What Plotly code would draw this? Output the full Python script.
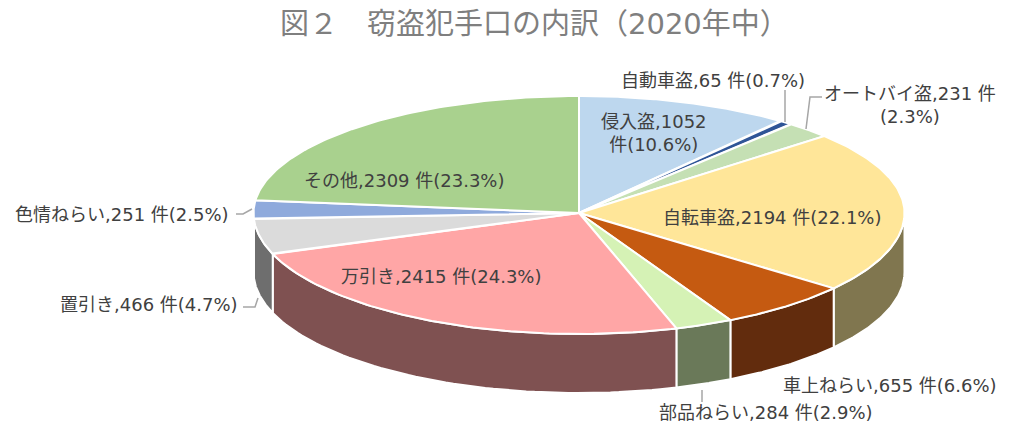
import numpy as np
import plotly.graph_objects as go

names = ["侵入盗", "自動車盗", "オートバイ盗", "自転車盗", "車上ねらい", "部品ねらい", "万引き", "置引き", "色情ねらい", "その他"]
values = [1052, 65, 231, 2194, 655, 284, 2415, 466, 251, 2309]
percents = ["10.6", "0.7", "2.3", "22.1", "6.6", "2.9", "24.3", "4.7", "2.5", "23.3"]
top_colors = ["#BDD7EE", "#2F5597", "#C5E0B4", "#FFE699", "#C55A11", "#D5F2B5", "#FFA6A6", "#DBDBDB", "#8FAADC", "#A9D18E"]
wall_colors = ["#5E6B77", "#18294B", "#62705A", "#80764F", "#622C0D", "#6A7959", "#7F5151", "#6E6E6E", "#47556E", "#546847"]
title_text = "図２　窃盗犯手口の内訳（2020年中）"

# pie geometry (pixels of the 1019x425 page); the front half is a little deeper (perspective)
CX, CY, RX, RY_BACK, RY_FRONT, DEPTH = 579, 213, 325.5, 117, 121, 59
label_xy = [(654, 133), (713, 80), (910, 105), (772, 217), (890, 385),
            (766, 412.5), (441, 276), (149, 304), (122, 214), (404, 180)]
label_breaks = {0: "侵入盗,1052<br>件({p}%)", 2: "オートバイ盗,231 件<br>({p}%)"}
leaders = [[(785, 90), (785, 122)], [(822, 97), (810, 97), (806, 129)],
           [(236, 214), (243, 214), (252, 209)], [(243, 307), (255, 307), (258, 298)],
           [(702, 390), (702, 402)]]

FONT = "DejaVu Sans, Noto Sans CJK JP"
LINE = "#FFFFFF"

def ex(t):
    return CX + RX * np.sin(t)

def ey(t):
    c = np.cos(t)
    return CY - np.where(c >= 0, RY_BACK, RY_FRONT) * c

total = sum(values)
edges = np.concatenate([[0], np.cumsum(values)]) / total * 2 * np.pi

fig = go.Figure()

# side walls (only the front half of the disc, pi/2 .. 3pi/2)
for i in range(len(values)):
    a = max(edges[i], np.pi / 2)
    b = min(edges[i + 1], 3 * np.pi / 2)
    if b <= a:
        continue
    t = np.linspace(a, b, 60)
    xs = np.concatenate([ex(t), ex(t[::-1]), [ex(a)]])
    ys = np.concatenate([ey(t), ey(t[::-1]) + DEPTH, [ey(t[0])]])
    fig.add_trace(go.Scatter(x=xs, y=ys, mode="lines", fill="toself", fillcolor=wall_colors[i],
                             line=dict(color=LINE, width=2), hoverinfo="skip", showlegend=False))

# top faces
for i in range(len(values)):
    t = np.linspace(edges[i], edges[i + 1], 90)
    xs = np.concatenate([[CX], ex(t), [CX]])
    ys = np.concatenate([[CY], ey(t), [CY]])
    fig.add_trace(go.Scatter(x=xs, y=ys, mode="lines", fill="toself", fillcolor=top_colors[i],
                             line=dict(color=LINE, width=2), hoverinfo="skip", showlegend=False,
                             name=names[i]))

# leader lines
for pts in leaders:
    fig.add_trace(go.Scatter(x=[p[0] for p in pts], y=[p[1] for p in pts], mode="lines",
                             line=dict(color="#A6A6A6", width=1.5), hoverinfo="skip", showlegend=False))

# data labels
for i, name in enumerate(names):
    if i in label_breaks:
        txt = label_breaks[i].format(p=percents[i])
    else:
        txt = f"{name},{values[i]} 件({percents[i]}%)"
    fig.add_annotation(x=label_xy[i][0], y=label_xy[i][1], text=txt, showarrow=False,
                       font=dict(family=FONT, size=18, color="#404040"), xanchor="center", yanchor="middle")

fig.add_annotation(x=534, y=24, text=title_text, showarrow=False,
                   font=dict(family=FONT, size=29, color="#7F7F7F"), xanchor="center", yanchor="middle")

fig.update_layout(
    width=1019, height=425, margin=dict(l=0, r=0, t=0, b=0),
    paper_bgcolor="white", plot_bgcolor="white", showlegend=False,
    xaxis=dict(range=[0, 1019], visible=False, fixedrange=True),
    yaxis=dict(range=[425, 0], visible=False, fixedrange=True),
)
fig.write_html("out.html", config=dict(displayModeBar=False),
               post_script="document.body.style.margin='0';document.body.style.overflow='hidden';")
